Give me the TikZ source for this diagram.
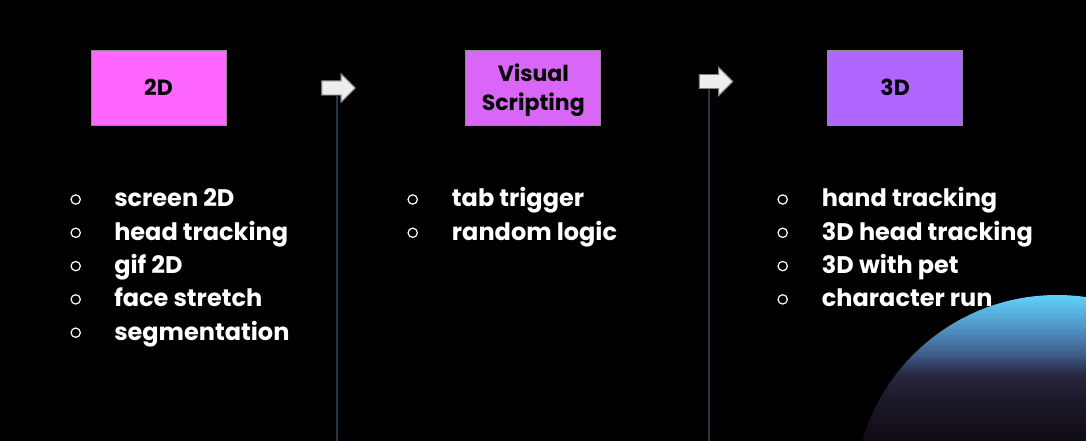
\documentclass[tikz,border=0pt]{standalone}
\usepackage{fontspec}
\setmainfont{Poppins}
\usepackage{xcolor}
\usepackage{tikz}
\usetikzlibrary{shapes.arrows, positioning, calc}

\definecolor{stagepink}{HTML}{FF66FF}
\definecolor{stageorchid}{HTML}{D966F7}
\definecolor{stageviolet}{HTML}{AF66FF}
\definecolor{trackteal}{HTML}{1F3A44}
\definecolor{globetop}{HTML}{60D2FA}
\definecolor{globeblue}{HTML}{4F8FC0}
\definecolor{globemid}{HTML}{3E5A88}
\definecolor{globedusk}{HTML}{282640}
\definecolor{globenight}{HTML}{1C1828}
\definecolor{globelow}{HTML}{100A14}
\pgfdeclareverticalshading{globeshade}{100bp}{color(0bp)=(globelow); color(25bp)=(globelow); color(39bp)=(globenight); color(47.6bp)=(globedusk); color(54.5bp)=(globemid); color(63bp)=(globeblue); color(75bp)=(globetop); color(100bp)=(globetop)}

\begin{document}
\begin{tikzpicture}[x=0.75pt, y=-0.75pt, node distance=179.25pt]
    \tikzstyle{stage} = [rectangle, draw=black!45, line width=0.6pt, minimum width=101.25pt, minimum height=56.25pt, inner sep=0pt, align=center, text=black, font=\fontsize{16.5}{22}\selectfont\bfseries]
    \tikzstyle{nextarrow} = [single arrow, draw=black!50, fill=black!7, line width=0.7pt, inner xsep=0pt, inner ysep=4.9pt, single arrow head extend=5.25pt, minimum height=25pt, single arrow tip angle=90]
    \tikzstyle{track} = [draw=trackteal, line width=2.2pt]
    \tikzstyle{item} = [anchor=base west, inner sep=0pt, text=white, font=\fontsize{18}{22}\selectfont\bfseries]
    \tikzstyle{dot} = [circle, draw=white, line width=0.9pt, minimum size=7pt, inner sep=0pt]

    % background
    \fill[black] (0,0) rectangle (1086,441);
    \useasboundingbox (0,0) rectangle (1086,441);

    % globe in the corner
    \begin{scope}
        \clip (1057,498) circle (203);
        \shade[shading=globeshade] (850,295) rectangle (1086,441);
    \end{scope}

    % stages
    \node [stage, fill=stagepink] at (158.5,87.5) (flat) {2D};
    \node [stage, fill=stageorchid, right=179.25pt of flat] (visual) {\raisebox{-6.4pt}[0pt][0pt]{\begin{tabular}{@{}c@{}}Visual\\Scripting\end{tabular}}};
    \node [stage, fill=stageviolet, right=169.5pt of visual] (depth) {3D};

    % arrows between stages
    \node [nextarrow] at (335,88) (step1) {};
    \node [nextarrow] at (712.5,81.5) (step2) {};
    \coordinate (end1) at (337,441);
    \coordinate (end2) at (709,441);
    \draw [track] ($(step1.center -| end1)+(0,7)$) -- (end1);
    \draw [track] ($(step2.center -| end2)+(0,7)$) -- (end2);
    \node [nextarrow] at (step1) {};
    \node [nextarrow] at (step2) {};

    % lists
    \foreach \txt [count=\i from 0] in {screen 2D, head tracking, gif 2D, face stretch, segmentation} {
        \node [dot] (dotA\i) at (75.7,199.5+33.3*\i) {};
        \node [item] (itemA\i) at (114,207+33.3*\i) {\txt};
    }
    \foreach \txt [count=\i from 0] in {tab trigger, random logic} {
        \node [dot] (dotB\i) at (412.7,199.5+33.3*\i) {};
        \node [item] (itemB\i) at (451.7,207+33.3*\i) {\txt};
    }
    \foreach \txt [count=\i from 0] in {hand tracking, 3D head tracking, 3D with pet, character run} {
        \node [dot] (dotC\i) at (782.7,199.5+33.3*\i) {};
        \node [item] (itemC\i) at (821.7,207+33.3*\i) {\txt};
    }
\end{tikzpicture}
\end{document}
